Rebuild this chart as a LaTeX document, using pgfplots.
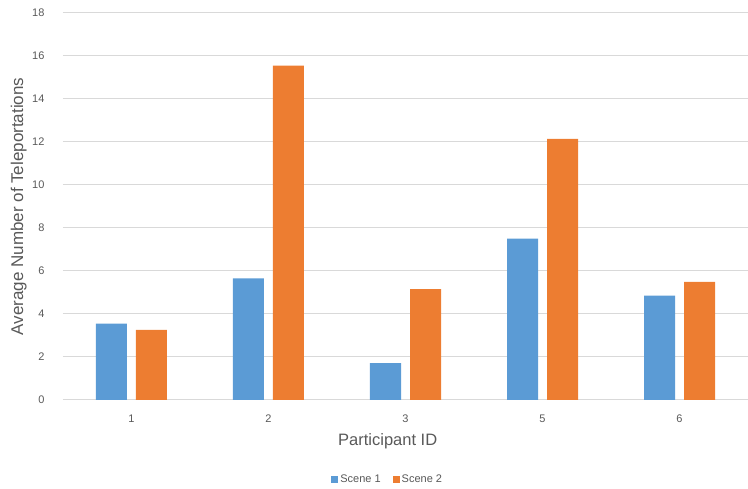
\documentclass[border=0pt]{standalone}
\usepackage{pgfplots}
\pgfplotsset{compat=1.18}
\usepackage{fontspec}
\setmainfont{Liberation Sans}
\definecolor{sceneA}{HTML}{5B9BD5}
\definecolor{sceneB}{HTML}{ED7D31}
\definecolor{gridgray}{HTML}{D9D9D9}
\definecolor{textgray}{HTML}{595959}
\begin{document}
\begin{tikzpicture}
\path[use as bounding box] (-63pt,-89pt) rectangle (685pt,400pt);
\begin{axis}[
  scale only axis,
  width=685pt, height=387pt,
  ybar=9pt, bar width=31pt,
  xmin=-0.5, xmax=4.5,
  ymin=0, ymax=18,
  ytick={0,2,...,18},
  xtick={0,1,2,3,4},
  xticklabels={1,2,3,5,6},
  axis line style={draw=none},
  axis x line*=bottom,
  x axis line style={draw=gridgray, line width=1pt},
  ymajorgrids,
  grid style={gridgray, line width=1pt},
  major tick length=0pt,
  tick label style={font=\fontsize{11}{13}\selectfont, text=textgray},
  /pgf/number format/assume math mode=true,
  yticklabel style={xshift=-15pt},
  xticklabel style={yshift=-11pt},
  ylabel={Average Number of Teleportations},
  ylabel style={font=\fontsize{17}{20}\selectfont, text=textgray, at={(axis description cs:-0.048,0.5)}, anchor=south},
  xlabel={Participant ID},
  xlabel style={font=\fontsize{16.5}{19}\selectfont, text=textgray, at={(axis description cs:0.474,0)}, anchor=north, yshift=-30pt},
  legend style={at={(axis description cs:0.474,0)}, anchor=north, yshift=-71pt, draw=none, font=\fontsize{11}{13}\selectfont, text=textgray, legend columns=2, /tikz/every even column/.append style={column sep=10pt}},
  legend image code/.code={\fill[#1] (0pt,-3.5pt) rectangle (7pt,3.5pt);},
]
\addplot[fill=sceneA, draw=none] coordinates {(0,3.55) (1,5.66) (2,1.72) (3,7.50) (4,4.85)};
\addplot[fill=sceneB, draw=none] coordinates {(0,3.26) (1,15.55) (2,5.16) (3,12.15) (4,5.49)};
\legend{Scene 1, Scene 2}
\end{axis}
\end{tikzpicture}
\end{document}
